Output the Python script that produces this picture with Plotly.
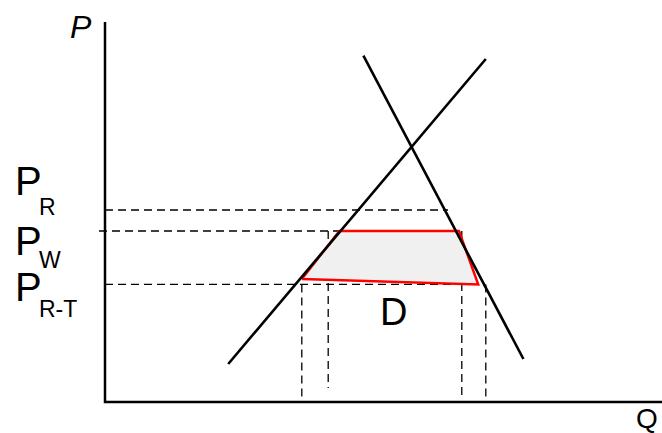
import plotly.graph_objects as go

# ---- data (economic units: Q horizontal, P vertical) ----
supply_q = [30.8, 95.2]
supply_p = [9.5, 85.75]
demand_q = [64.6, 104.6]
demand_p = [86.6, 10.75]

price_r = 48.0
price_w = 42.75
price_rt = 29.4

# horizontal dashed guides: (price, q_start, q_end)
hguide_price = [price_r, price_w, price_rt]
hguide_q0 = [0.0, -1.5, 0.0]
hguide_q1 = [85.75, 88.75, 93.25]

# vertical dashed guides: (q, p_top, p_bottom)
vguide_q = [49.2, 55.8, 89.2, 95.2]
vguide_ptop = [price_rt, price_w, price_w, price_rt]
vguide_pbot = [0.5, 3.5, 0.5, 0.5]

# shaded trapezoid (red outline)
trap_q = [49.2, 58.6, 88.5, 93.3, 49.2]
trap_p = [30.75, 42.75, 42.75, 29.4, 30.75]

axis_q_max = 139.25
axis_p_max = 95.0

FONT = "Liberation Sans, Arial, sans-serif"

fig = go.Figure()

# axes
fig.add_trace(go.Scatter(x=[0, 0, axis_q_max], y=[axis_p_max, 0, 0], mode="lines",
                         line=dict(color="black", width=2.5), hoverinfo="skip"))

# dashed horizontal guides
for p, q0, q1 in zip(hguide_price, hguide_q0, hguide_q1):
    fig.add_trace(go.Scatter(x=[q0, q1], y=[p, p], mode="lines",
                             line=dict(color="black", width=1.3, dash="8px,5px"), hoverinfo="skip"))
# dashed vertical guides
for q, pt, pb in zip(vguide_q, vguide_ptop, vguide_pbot):
    fig.add_trace(go.Scatter(x=[q, q], y=[pt, pb], mode="lines",
                             line=dict(color="black", width=1.3, dash="8px,5px"), hoverinfo="skip"))

# trapezoid
fig.add_trace(go.Scatter(x=trap_q, y=trap_p, mode="lines", fill="toself",
                         fillcolor="rgba(240,240,240,1)",
                         line=dict(color="red", width=2.5), hoverinfo="skip"))

# supply and demand
fig.add_trace(go.Scatter(x=supply_q, y=supply_p, mode="lines",
                         line=dict(color="black", width=2.6), hoverinfo="skip"))
fig.add_trace(go.Scatter(x=demand_q, y=demand_p, mode="lines",
                         line=dict(color="black", width=2.6), hoverinfo="skip"))

k = 4.0
def px2x(px):
    return (px - 105) / k
def py2y(py):
    return (402 - py) / k

ann = []
def add_text(text, px, py, size, xanchor="center", italic=False):
    ann.append(dict(text=f"<i>{text}</i>" if italic else text, x=px2x(px), y=py2y(py),
                    xref="x", yref="y", showarrow=False, xanchor=xanchor, yanchor="middle",
                    font=dict(family=FONT, size=size, color="black")))

add_text("P", 81, 27, 32, italic=True)
add_text("Q", 647, 418, 28)
add_text("D", 393, 312, 38)

big = 40
sub = 23
add_text("P", 13, 181, big, xanchor="left")
add_text("R", 37, 207, sub, xanchor="left")
add_text("P", 13, 241, big, xanchor="left")
add_text("W", 37, 260, sub, xanchor="left")
add_text("P", 13, 287, big, xanchor="left")
add_text("R-T", 37, 309, sub, xanchor="left")

fig.update_layout(
    width=662, height=433, margin=dict(l=0, r=0, t=0, b=0),
    plot_bgcolor="white", paper_bgcolor="white", showlegend=False,
    xaxis=dict(range=[px2x(0), px2x(662)], visible=False, fixedrange=True),
    yaxis=dict(range=[py2y(433), py2y(0)], visible=False, fixedrange=True),
    annotations=ann,
)

fig.write_html("out.html", config={"displayModeBar": False},
               post_script="document.body.style.margin='0px';document.body.style.overflow='hidden';")
